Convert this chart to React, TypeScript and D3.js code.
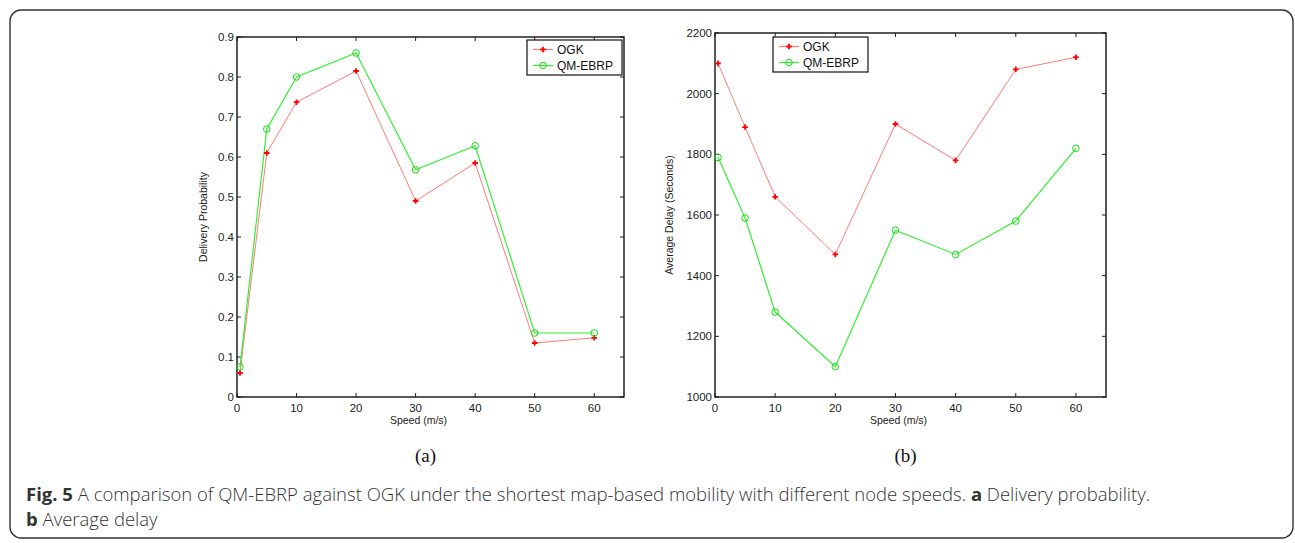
import React, { useEffect, useRef } from "react";
import * as d3 from "d3";

const speeds = [0.5, 5, 10, 20, 30, 40, 50, 60];
const xTicks = [0, 10, 20, 30, 40, 50, 60];

const probOGK = [0.06, 0.61, 0.737, 0.815, 0.49, 0.585, 0.135, 0.148];
const probQM = [0.075, 0.67, 0.8, 0.86, 0.568, 0.628, 0.16, 0.16];
const probTicks = [0, 0.1, 0.2, 0.3, 0.4, 0.5, 0.6, 0.7, 0.8, 0.9];

const delayOGK = [2100, 1890, 1660, 1470, 1900, 1780, 2080, 2120];
const delayQM = [1790, 1590, 1280, 1100, 1550, 1470, 1580, 1820];
const delayTicks = [1000, 1200, 1400, 1600, 1800, 2000, 2200];

const seriesNames = ["OGK", "QM-EBRP"];

const W = 1295;
const H = 543;

type Panel = {
  left: number;
  top: number;
  right: number;
  bottom: number;
  yDomain: [number, number];
  yTicks: number[];
  ogk: number[];
  qm: number[];
  yLabel: string;
  legend: [number, number];
  sub: string;
};

const panels: Panel[] = [
  {
    left: 237, top: 37, right: 624, bottom: 397,
    yDomain: [0, 0.9], yTicks: probTicks, ogk: probOGK, qm: probQM,
    yLabel: "Delivery Probability", legend: [527, 40], sub: "(a)",
  },
  {
    left: 715, top: 33, right: 1106, bottom: 397,
    yDomain: [1000, 2200], yTicks: delayTicks, ogk: delayOGK, qm: delayQM,
    yLabel: "Average Delay (Seconds)", legend: [773, 37], sub: "(b)",
  },
];

const RED_LINE = "#ff7a7a";
const RED = "#ff0000";
const GREEN_LINE = "#33ee33";
const GREEN = "#11dd11";

const App = () => {
  const svgRef = useRef<SVGSVGElement>(null);

  useEffect(() => {
    const svg = d3.select(svgRef.current);
    svg.selectAll("*").remove();

    svg.append("rect")
      .attr("x", 10).attr("y", 10)
      .attr("width", 1283).attr("height", 528)
      .attr("rx", 11)
      .attr("fill", "white")
      .attr("stroke", "#333")
      .attr("stroke-width", 1.4);

    const plus = (g: any, x: number, y: number) => {
      g.append("path")
        .attr("d", `M${x - 2.8},${y}H${x + 2.8}M${x},${y - 2.8}V${y + 2.8}`)
        .attr("stroke", RED).attr("stroke-width", 1.8);
    };

    panels.forEach((p) => {
      const x = d3.scaleLinear().domain([0, 65]).range([p.left, p.right]);
      const y = d3.scaleLinear().domain(p.yDomain).range([p.bottom, p.top]);
      const g = svg.append("g");
      const font = "'Liberation Sans', Arial, sans-serif";

      // ticks (inside, all four sides)
      const tk = g.append("g").attr("stroke", "#222").attr("stroke-width", 1);
      xTicks.forEach((t) => {
        tk.append("line").attr("x1", x(t)).attr("x2", x(t)).attr("y1", p.bottom).attr("y2", p.bottom - 4);
        tk.append("line").attr("x1", x(t)).attr("x2", x(t)).attr("y1", p.top).attr("y2", p.top + 4);
      });
      p.yTicks.forEach((t) => {
        tk.append("line").attr("x1", p.left).attr("x2", p.left + 4).attr("y1", y(t)).attr("y2", y(t));
        tk.append("line").attr("x1", p.right).attr("x2", p.right - 4).attr("y1", y(t)).attr("y2", y(t));
      });

      g.append("rect")
        .attr("x", p.left).attr("y", p.top)
        .attr("width", p.right - p.left).attr("height", p.bottom - p.top)
        .attr("fill", "none").attr("stroke", "#111").attr("stroke-width", 1.4);

      g.append("g").selectAll("text").data(xTicks).join("text")
        .attr("x", (d) => x(d)).attr("y", p.bottom + 15)
        .attr("text-anchor", "middle")
        .attr("font-family", font).attr("font-size", 11.5).attr("fill", "#222")
        .text((d) => d);

      g.append("g").selectAll("text").data(p.yTicks).join("text")
        .attr("x", p.left - 3).attr("y", (d) => y(d) + 4)
        .attr("text-anchor", "end")
        .attr("font-family", font).attr("font-size", 11.5).attr("fill", "#222")
        .text((d) => d);

      g.append("text")
        .attr("x", (p.left + p.right) / 2 - 12).attr("y", p.bottom + 27)
        .attr("text-anchor", "middle")
        .attr("font-family", font).attr("font-size", 10.5).attr("fill", "#222")
        .text("Speed (m/s)");

      const yl = p === panels[0] ? p.left - 30 : p.left - 42;
      g.append("text")
        .attr("transform", `translate(${yl},${(p.top + p.bottom) / 2}) rotate(-90)`)
        .attr("text-anchor", "middle")
        .attr("font-family", font).attr("font-size", 10.5).attr("fill", "#222")
        .text(p.yLabel);

      const line = d3.line<number>().x((_, i) => x(speeds[i])).y((d) => y(d));

      g.append("path").attr("d", line(p.ogk)).attr("fill", "none")
        .attr("stroke", RED_LINE).attr("stroke-width", 1);
      g.append("path").attr("d", line(p.qm)).attr("fill", "none")
        .attr("stroke", GREEN_LINE).attr("stroke-width", 1.2);

      p.ogk.forEach((v, i) => plus(g, x(speeds[i]), y(v)));
      g.append("g").selectAll("circle").data(p.qm).join("circle")
        .attr("cx", (_, i) => x(speeds[i])).attr("cy", (d) => y(d))
        .attr("r", 3.3).attr("fill", "none")
        .attr("stroke", GREEN).attr("stroke-width", 1);

      // legend
      const [lx, ly] = p.legend;
      const lg = g.append("g");
      lg.append("rect").attr("x", lx).attr("y", ly).attr("width", 95).attr("height", 35)
        .attr("fill", "white").attr("stroke", "#111").attr("stroke-width", 1.2);
      seriesNames.forEach((name, i) => {
        const cy = ly + 9.5 + i * 16;
        lg.append("line").attr("x1", lx + 6).attr("x2", lx + 26).attr("y1", cy).attr("y2", cy)
          .attr("stroke", i === 0 ? RED_LINE : GREEN_LINE).attr("stroke-width", 1.2);
        if (i === 0) plus(lg, lx + 16, cy);
        else lg.append("circle").attr("cx", lx + 16).attr("cy", cy).attr("r", 3.3)
          .attr("fill", "none").attr("stroke", GREEN);
        lg.append("text").attr("x", lx + 30).attr("y", cy + 4.5)
          .attr("font-family", font).attr("font-size", 12).attr("fill", "#111")
          .text(name);
      });

      g.append("text")
        .attr("x", (p.left + p.right) / 2 - 5).attr("y", 462)
        .attr("text-anchor", "middle")
        .attr("font-family", "'Liberation Serif', 'Times New Roman', serif")
        .attr("font-size", 19).attr("fill", "#111")
        .text(p.sub);
    });

    const cap = svg.append("g")
      .attr("font-family", "'Open Sans', sans-serif")
      .attr("font-size", 18.5).attr("fill", "#333");
    const l1 = cap.append("text").attr("x", 26).attr("y", 501);
    l1.append("tspan").attr("font-weight", "bold").text("Fig. 5");
    l1.append("tspan").attr("font-weight", 300).text(" A comparison of QM-EBRP against OGK under the shortest map-based mobility with different node speeds. ");
    l1.append("tspan").attr("font-weight", "bold").text("a");
    l1.append("tspan").attr("font-weight", 300).text(" Delivery probability.");
    const l2 = cap.append("text").attr("x", 26).attr("y", 526);
    l2.append("tspan").attr("font-weight", "bold").text("b");
    l2.append("tspan").attr("font-weight", 300).text(" Average delay");
  }, []);

  return (
    <div>
      <svg ref={svgRef} width={W} height={H} style={{ display: "block", position: "absolute", left: 0, top: 0 }} />
    </div>
  );
};

export default App;
